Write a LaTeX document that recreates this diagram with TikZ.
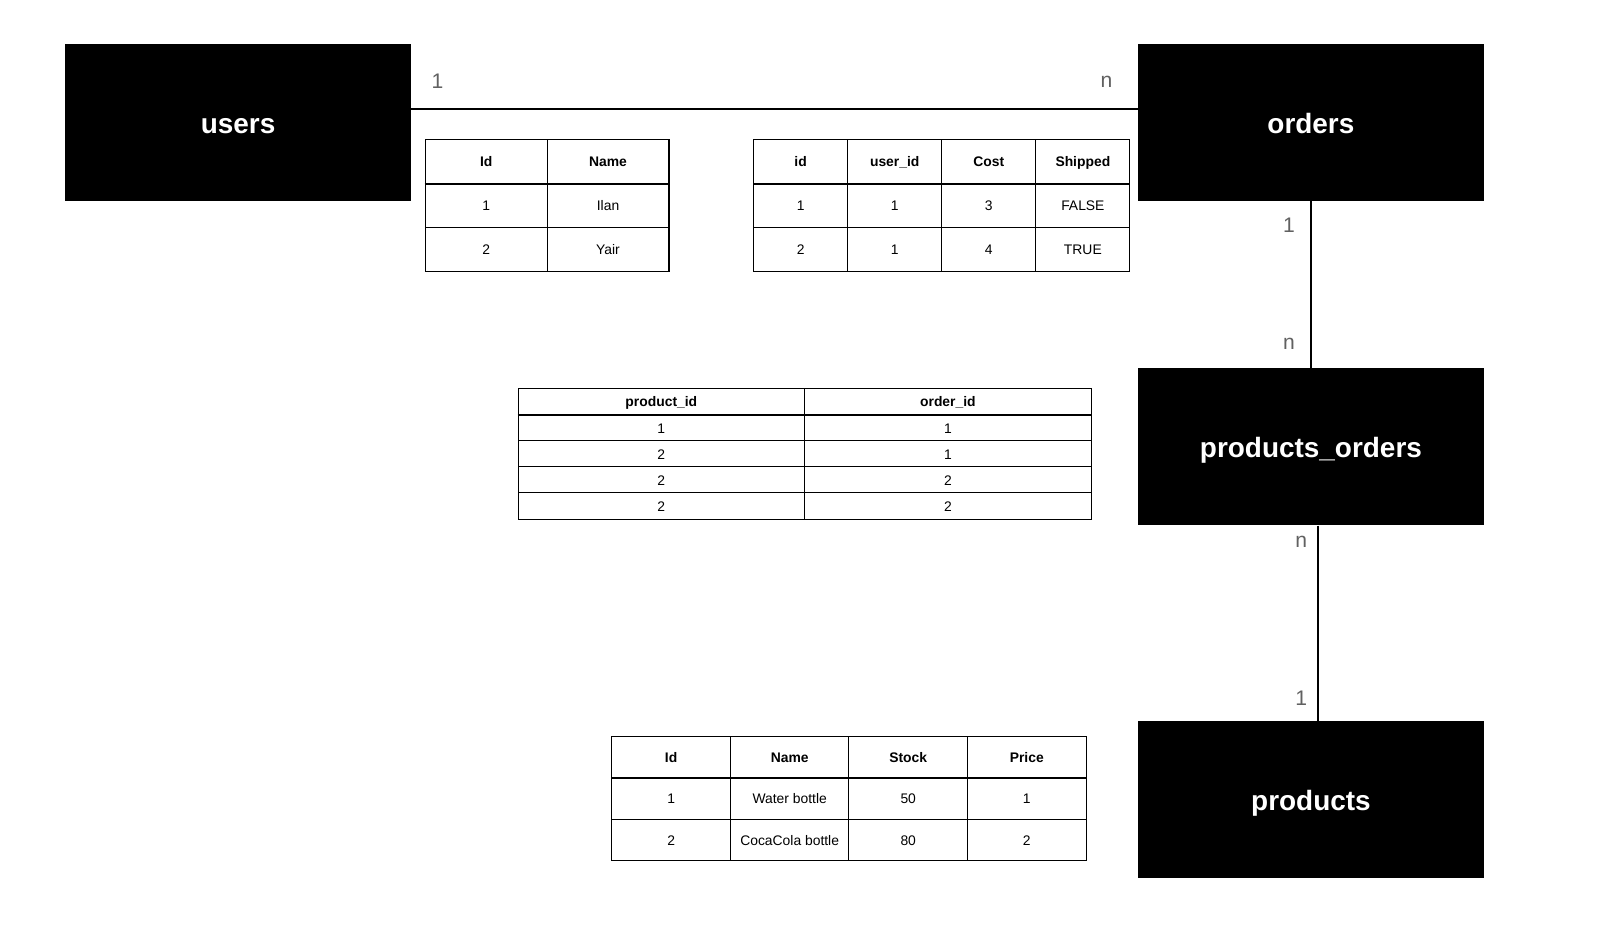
\documentclass[tikz,border=0pt]{standalone}
\usepackage{fontspec}
\setmainfont{Liberation Sans}
\usepackage{tikz}
\usetikzlibrary{positioning}

\newcommand\pxu{0.020395cm}

\begin{document}
\begin{tikzpicture}[x=\pxu, y=-\pxu, font=\fontsize{7.9}{9}\selectfont,
    entity/.style={fill=black, text=white, inner sep=0pt,
        font=\fontsize{15.9}{18}\selectfont\bfseries,
        text height=15.2pt, text depth=2.5pt,
        minimum width=339*\pxu, minimum height=154*\pxu},
    card/.style={text=black!62, font=\fontsize{12}{14}\selectfont},
    cell/.style={draw, line width=0.6pt, inner sep=0pt,
        text height=1.55ex, text depth=0.4ex},
    head/.style={cell, font=\fontsize{7.9}{9}\selectfont\bfseries},
    link/.style={line width=1.15pt},
    headline/.style={line width=1.3pt}]
        \useasboundingbox (0,0) rectangle (1568,922.7);

        % Entities
        \node[entity] (users) at (233.5,120) {users};
        \node[entity] (orders) at (1285.5,120) {orders};
        \node[entity] (prodord) at (1285.5,438) {products\_orders};
        \node[entity] (products) at (1285.5,784) {products};

        % Relations
        \draw[link] ([yshift=13*\pxu]users.east) -- ([yshift=13*\pxu]orders.west);
        \draw[link] (orders) -- (prodord);
        \draw[link] ([xshift=6.8*\pxu]prodord.south) -- ([xshift=6.8*\pxu]products.north);

        % Cardinalities
        \node[card] (c1) at (429,80) {1};
        \node[card] (c2) at (1085,80) {n};
        \node[card] (c3) at (1264,221) {1};
        \node[card] (c4) at (1264,337) {n};
        \node[card] (c5) at (1276,531) {n};
        \node[card] (c6) at (1276,685) {1};

        % Users table
        \foreach \t [count=\c] in {Id,Name}
            \node[head, minimum width=119.5*\pxu, minimum height=43*\pxu]
                (uh\c) at (417+119.5*\c-59.75,158.5) {\t};
        \foreach \a/\b [count=\r] in {1/Ilan,2/Yair} {
            \node[cell, minimum width=119.5*\pxu, minimum height=43*\pxu]
                (ua\r) at (476.75,158.5+43*\r) {\a};
            \node[cell, minimum width=119.5*\pxu, minimum height=43*\pxu]
                (ub\r) at (596.25,158.5+43*\r) {\b};
        }
        \draw[headline] (uh1.south west) -- (uh2.south east);

        % Orders table
        \foreach \t [count=\c] in {id,user\_id,Cost,Shipped}
            \node[head, minimum width=92.25*\pxu, minimum height=43*\pxu]
                (oh\c) at (739+92.25*\c-46.125,158.5) {\t};
        \foreach \a/\b/\d/\e [count=\r] in {1/1/3/FALSE,2/1/4/TRUE} {
            \node[cell, minimum width=92.25*\pxu, minimum height=43*\pxu]
                (oa\r) at (785.125,158.5+43*\r) {\a};
            \node[cell, minimum width=92.25*\pxu, minimum height=43*\pxu]
                (ob\r) at (877.375,158.5+43*\r) {\b};
            \node[cell, minimum width=92.25*\pxu, minimum height=43*\pxu]
                (oc\r) at (969.625,158.5+43*\r) {\d};
            \node[cell, minimum width=92.25*\pxu, minimum height=43*\pxu]
                (od\r) at (1061.875,158.5+43*\r) {\e};
        }
        \draw[headline] (oh1.south west) -- (oh4.south east);

        % Products_orders table
        \foreach \t [count=\c] in {product\_id,order\_id}
            \node[head, minimum width=281*\pxu, minimum height=25.6*\pxu]
                (ph\c) at (508+281*\c-140.5,393.8) {\t};
        \foreach \a/\b [count=\r] in {1/1,2/1,2/2,2/2} {
            \node[cell, minimum width=281*\pxu, minimum height=25.6*\pxu]
                (pa\r) at (648.5,393.8+25.6*\r) {\a};
            \node[cell, minimum width=281*\pxu, minimum height=25.6*\pxu]
                (pb\r) at (929.5,393.8+25.6*\r) {\b};
        }
        \draw[headline] (ph1.south west) -- (ph2.south east);

        % Products table
        \foreach \t [count=\c] in {Id,Name,Stock,Price}
            \node[head, minimum width=116.25*\pxu, minimum height=40.67*\pxu]
                (rh\c) at (600+116.25*\c-58.125,742.3) {\t};
        \foreach \a/\b/\d/\e [count=\r] in {1/Water bottle/50/1,2/CocaCola bottle/80/2} {
            \node[cell, minimum width=116.25*\pxu, minimum height=40.67*\pxu]
                (ra\r) at (658.125,742.3+40.67*\r) {\a};
            \node[cell, minimum width=116.25*\pxu, minimum height=40.67*\pxu]
                (rb\r) at (774.375,742.3+40.67*\r) {\b};
            \node[cell, minimum width=116.25*\pxu, minimum height=40.67*\pxu]
                (rc\r) at (890.625,742.3+40.67*\r) {\d};
            \node[cell, minimum width=116.25*\pxu, minimum height=40.67*\pxu]
                (rd\r) at (1006.875,742.3+40.67*\r) {\e};
        }
        \draw[headline] (rh1.south west) -- (rh4.south east);
\end{tikzpicture}
\end{document}
